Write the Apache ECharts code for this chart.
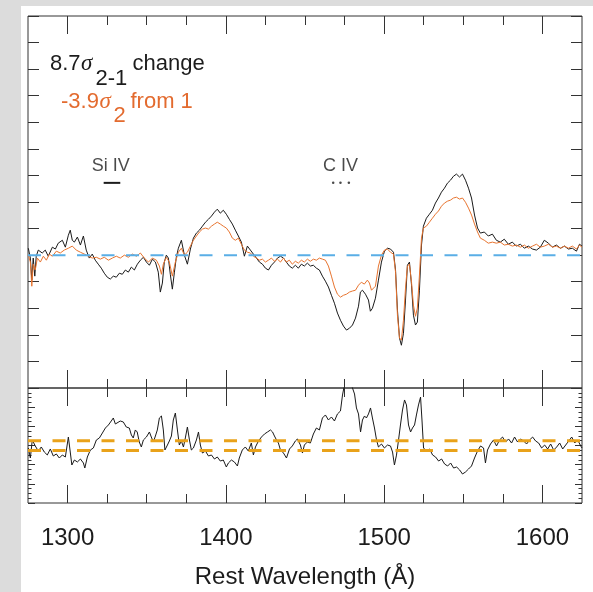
<!DOCTYPE html>
<html>
<head>
<meta charset="utf-8">
<script src="https://cdn.jsdelivr.net/npm/echarts@6/dist/echarts.min.js"></script>
<style>
  html, body { margin: 0; padding: 0; background: #dcdcdc; }
  #chart { width: 593px; height: 592px; }
</style>
</head>
<body>
<div id="chart"></div>
<script>
// Wavelength ticks (Å)
const wlMajor = [1300, 1400, 1500, 1600];
const wlMinor = [1325, 1350, 1375, 1425, 1450, 1475, 1525, 1550, 1575];

// Upper panel: change in the spectrum between epochs [wavelength, flux difference]
const diffBlack = [
  [1275.2,0.26],[1276.5,-0.11],[1277.4,-0.94],[1278.3,-0.11],[1279.3,-0.79],[1280.2,-0.04],
  [1281.5,0.19],[1284.0,0.08],[1285.9,0.19],[1287.8,-0.04],[1290.4,0.30],[1292.3,0.23],
  [1294.1,0.45],[1296.7,0.56],[1298.6,0.30],[1300.5,0.75],[1301.7,0.94],[1303.0,0.56],
  [1304.3,0.49],[1306.2,0.68],[1308.1,0.38],[1310.0,0.72],[1311.8,0.19],[1313.7,-0.11],
  [1315.6,0.04],[1317.5,-0.19],[1319.4,-0.34],[1321.3,-0.49],[1323.2,-0.68],[1325.1,-0.83],
  [1327.0,-0.90],[1328.9,-0.79],[1330.8,-0.83],[1332.7,-0.68],[1334.6,-0.72],[1336.5,-0.56],
  [1338.4,-0.64],[1340.3,-0.45],[1342.2,-0.56],[1344.1,-0.34],[1346.0,-0.19],[1347.9,-0.08],
  [1349.8,-0.26],[1351.7,-0.38],[1353.6,-0.15],[1355.5,-0.26],[1357.3,-0.64],[1358.6,-1.39],
  [1359.9,-1.05],[1361.1,-0.26],[1362.4,0.00],[1363.7,-0.11],[1364.9,-0.72],[1366.2,-1.28],
  [1367.5,-0.64],[1368.7,-0.08],[1370.0,0.26],[1371.9,0.56],[1373.8,0.00],[1375.7,-0.34],
  [1377.6,0.23],[1379.5,0.64],[1381.4,0.83],[1383.3,0.94],[1385.2,1.09],[1387.1,1.24],
  [1389.0,1.35],[1390.9,1.47],[1392.8,1.62],[1394.6,1.73],[1396.5,1.58],[1398.4,1.69],
  [1400.3,1.54],[1402.2,1.35],[1404.1,1.17],[1406.0,0.94],[1407.9,0.72],[1409.8,0.49],
  [1411.7,-0.04],[1413.6,0.34],[1415.5,0.19],[1417.4,0.04],[1419.3,-0.11],[1421.2,-0.26],
  [1423.1,-0.34],[1425.0,-0.49],[1426.9,-0.56],[1428.8,-0.38],[1430.7,-0.26],[1432.6,-0.11],
  [1434.5,-0.04],[1436.4,-0.11],[1438.2,-0.26],[1440.1,-0.41],[1442.0,-0.49],[1443.9,-0.38],
  [1445.8,-0.49],[1447.7,-0.34],[1449.6,-0.41],[1451.5,-0.30],[1453.4,-0.41],[1455.3,-0.38],
  [1457.2,-0.49],[1459.1,-0.56],[1461.0,-0.79],[1462.9,-0.98],[1464.8,-1.20],[1466.7,-1.51],
  [1468.6,-1.81],[1470.5,-2.18],[1472.4,-2.45],[1474.3,-2.67],[1476.2,-2.82],[1478.1,-2.75],
  [1480.0,-2.63],[1481.9,-2.37],[1483.8,-1.92],[1485.0,-1.39],[1486.3,-1.32],[1488.2,-1.47],
  [1490.1,-1.69],[1491.3,-2.11],[1492.6,-2.00],[1494.5,-1.62],[1496.4,-0.94],[1498.3,-0.26],
  [1500.2,0.15],[1502.1,0.26],[1504.0,0.23],[1505.9,0.11],[1507.2,-0.56],[1508.4,-2.07],
  [1509.7,-3.12],[1510.9,-3.39],[1512.2,-2.94],[1513.5,-1.69],[1514.7,-0.38],[1516.0,-0.26],
  [1517.3,-1.13],[1518.5,-2.26],[1519.8,-2.63],[1521.0,-2.52],[1522.3,-1.32],[1523.6,0.38],
  [1524.8,1.09],[1526.7,1.39],[1528.6,1.54],[1530.5,1.69],[1532.4,1.96],[1534.3,2.15],
  [1536.2,2.37],[1538.1,2.52],[1540.0,2.71],[1541.9,2.82],[1543.8,2.97],[1545.7,3.05],
  [1547.6,2.94],[1549.5,3.05],[1551.4,2.82],[1553.3,2.52],[1555.2,2.15],[1557.1,1.51],
  [1559.0,1.02],[1560.8,0.83],[1563.3,0.87],[1565.8,0.72],[1568.4,0.79],[1570.9,0.56],
  [1573.4,0.49],[1575.9,0.60],[1578.5,0.41],[1581.0,0.49],[1583.5,0.34],[1586.1,0.41],
  [1588.6,0.26],[1591.1,0.34],[1593.7,0.23],[1596.2,0.19],[1598.7,0.30],[1601.2,0.56],
  [1603.8,0.45],[1606.3,0.30],[1608.8,0.38],[1611.4,0.26],[1613.9,0.34],[1616.4,0.23],
  [1618.9,0.26],[1621.5,0.15],[1623.4,0.41],[1625.0,0.34]
];

const diffOrange = [
  [1275.2,0.00],[1276.5,-0.26],[1277.4,-1.17],[1278.3,-0.34],[1279.6,-0.56],[1280.9,-0.11],
  [1282.8,-0.26],[1284.7,-0.04],[1286.6,-0.19],[1288.5,0.04],[1290.4,-0.04],[1292.9,0.15],
  [1295.4,0.08],[1297.9,0.19],[1300.5,0.26],[1303.0,0.34],[1305.5,0.19],[1308.1,0.11],
  [1310.6,0.04],[1313.1,-0.04],[1315.6,-0.11],[1318.2,-0.08],[1320.7,-0.15],[1323.2,-0.08],
  [1325.8,-0.19],[1328.3,-0.11],[1330.8,-0.04],[1333.3,-0.11],[1335.9,0.00],[1338.4,-0.08],
  [1340.9,0.04],[1343.5,-0.04],[1346.0,0.08],[1348.5,-0.11],[1351.1,-0.26],[1353.6,-0.11],
  [1356.1,-0.19],[1358.0,-0.41],[1359.3,-0.72],[1360.5,-0.34],[1362.4,-0.08],[1364.3,-0.26],
  [1366.2,-0.79],[1368.1,-0.26],[1370.0,0.11],[1371.9,0.26],[1373.8,0.00],[1375.7,0.11],
  [1377.6,0.34],[1379.5,0.56],[1381.4,0.72],[1383.3,0.87],[1385.2,0.98],[1387.1,1.02],
  [1389.0,0.98],[1390.9,1.09],[1392.8,1.17],[1394.6,1.24],[1396.5,1.17],[1398.4,1.09],
  [1400.3,1.02],[1402.2,0.87],[1404.1,0.64],[1406.0,0.56],[1407.9,0.64],[1409.8,0.41],
  [1411.7,0.19],[1413.6,0.11],[1415.5,0.08],[1417.4,-0.04],[1419.3,-0.11],[1421.2,-0.19],
  [1423.1,-0.15],[1425.0,-0.26],[1426.9,-0.19],[1428.8,-0.11],[1430.7,-0.23],[1432.6,-0.15],
  [1434.5,-0.26],[1436.4,-0.11],[1438.2,-0.26],[1440.1,-0.19],[1442.0,-0.34],[1443.9,-0.23],
  [1445.8,-0.30],[1447.7,-0.19],[1449.6,-0.26],[1451.5,-0.15],[1453.4,-0.23],[1455.3,-0.15],
  [1457.2,-0.19],[1459.1,-0.11],[1461.0,-0.15],[1462.9,-0.19],[1464.8,-0.41],[1466.7,-0.79],
  [1468.6,-1.20],[1470.5,-1.47],[1472.4,-1.58],[1474.3,-1.51],[1476.2,-1.47],[1478.1,-1.39],
  [1480.0,-1.35],[1481.9,-1.32],[1483.8,-1.13],[1485.6,-1.02],[1487.5,-1.09],[1489.4,-0.94],
  [1490.7,-1.05],[1492.0,-1.32],[1493.2,-1.39],[1494.5,-1.17],[1496.4,-0.41],[1498.3,0.00],
  [1500.2,0.19],[1502.1,0.23],[1504.0,0.11],[1505.9,0.04],[1507.2,-0.64],[1508.4,-2.26],
  [1509.7,-3.12],[1510.9,-3.20],[1512.2,-2.45],[1513.5,-1.24],[1514.7,-0.41],[1516.0,-0.34],
  [1517.3,-1.02],[1518.5,-1.88],[1519.8,-2.30],[1521.0,-1.99],[1522.3,-0.75],[1523.6,0.64],
  [1524.8,1.02],[1526.7,1.09],[1528.6,1.24],[1530.5,1.39],[1532.4,1.54],[1534.3,1.66],
  [1536.2,1.84],[1538.1,1.96],[1540.0,2.03],[1541.9,2.07],[1543.8,2.15],[1545.7,2.18],
  [1547.6,2.11],[1549.5,2.15],[1551.4,1.99],[1553.3,1.77],[1555.2,1.51],[1557.1,1.17],
  [1559.0,0.87],[1560.8,0.64],[1563.3,0.56],[1565.8,0.45],[1568.4,0.49],[1570.9,0.45],
  [1573.4,0.49],[1575.9,0.38],[1578.5,0.41],[1581.0,0.34],[1583.5,0.38],[1586.1,0.30],
  [1588.6,0.38],[1591.1,0.26],[1593.7,0.34],[1596.2,0.41],[1598.7,0.30],[1601.2,0.34],
  [1603.8,0.41],[1606.3,0.30],[1608.8,0.34],[1611.4,0.26],[1613.9,0.34],[1616.4,0.26],
  [1618.9,0.34],[1621.5,0.23],[1623.4,0.38],[1625.0,0.30]
];

// Lower panel: significance of the change [wavelength, sigma]
const residual = [
  [1275.2,-0.52],[1276.5,-2.61],[1277.7,1.15],[1279.6,-0.10],[1281.5,-1.15],[1283.4,-0.31],
  [1285.3,-1.36],[1287.2,-1.98],[1289.1,-0.73],[1291.0,-2.19],[1292.9,-1.77],[1294.8,-2.61],
  [1296.7,-1.98],[1298.6,-2.40],[1300.5,1.77],[1301.7,-1.36],[1302.7,-4.07],[1304.3,-3.03],
  [1306.2,-3.44],[1308.1,-2.82],[1310.0,-3.65],[1310.9,-4.70],[1312.5,-2.40],[1314.4,-0.94],
  [1316.3,-0.52],[1318.2,1.15],[1320.1,1.57],[1322.0,2.61],[1323.9,3.65],[1325.8,4.28],
  [1327.6,5.11],[1328.9,5.74],[1330.2,4.49],[1331.4,4.28],[1333.3,5.11],[1335.2,4.91],
  [1337.1,3.86],[1339.0,3.65],[1340.3,2.19],[1341.5,1.57],[1342.8,3.24],[1344.0,2.82],
  [1345.3,0.73],[1346.6,-0.31],[1347.9,1.15],[1349.8,1.77],[1351.7,2.82],[1352.9,1.77],
  [1354.2,0.73],[1355.5,1.98],[1356.7,3.24],[1358.0,5.74],[1359.3,6.16],[1360.5,3.24],
  [1361.5,-0.94],[1363.1,0.10],[1364.3,0.94],[1365.6,1.98],[1366.8,5.32],[1368.1,6.78],
  [1369.4,3.24],[1370.6,0.10],[1371.9,0.94],[1373.2,-0.31],[1374.4,1.57],[1375.7,3.86],
  [1377.0,1.15],[1378.2,-0.94],[1379.5,-0.52],[1381.4,1.15],[1382.7,2.82],[1383.9,0.10],
  [1385.2,-1.57],[1387.1,-1.15],[1389.0,-2.19],[1390.9,-1.98],[1392.8,-2.82],[1394.6,-2.40],
  [1396.5,-3.24],[1398.4,-3.03],[1400.3,-4.49],[1401.6,-3.65],[1403.5,-3.03],[1405.4,-3.44],
  [1407.3,-4.28],[1408.5,-2.61],[1410.4,-0.94],[1412.3,-0.31],[1414.2,-1.15],[1416.1,0.52],
  [1417.4,-1.98],[1418.7,-0.31],[1420.6,0.94],[1422.5,1.77],[1424.4,2.40],[1426.3,2.82],
  [1428.2,3.24],[1429.5,2.82],[1430.7,1.98],[1432.0,1.15],[1433.2,0.52],[1434.5,-0.94],
  [1436.4,-1.57],[1438.3,-2.61],[1440.2,-0.73],[1442.0,-0.10],[1443.9,0.94],[1445.2,1.36],
  [1447.1,0.10],[1448.4,-1.57],[1449.6,0.10],[1451.5,0.73],[1453.4,0.52],[1455.3,2.40],
  [1457.2,3.65],[1459.1,3.24],[1461.0,5.74],[1462.9,6.37],[1464.8,5.32],[1466.7,5.95],
  [1468.6,5.11],[1470.5,6.58],[1472.4,7.20],[1473.7,10.54],[1474.9,12.6],[1476.8,13.7],
  [1478.7,13.3],[1480.0,12.0],[1481.3,10.75],[1482.5,7.83],[1483.8,6.58],[1485.1,2.82],
  [1486.3,5.32],[1487.6,6.16],[1488.8,5.74],[1490.1,6.58],[1491.4,7.83],[1492.6,5.74],
  [1493.9,3.65],[1495.2,1.15],[1496.4,-0.31],[1498.3,0.31],[1500.2,-0.52],[1502.1,0.10],
  [1504.0,-0.10],[1505.3,-1.36],[1506.5,-4.07],[1507.8,-2.00],[1509.1,1.15],[1510.3,4.28],
  [1511.6,7.41],[1512.9,9.50],[1514.1,8.46],[1515.4,4.28],[1516.7,2.82],[1517.9,3.65],
  [1519.2,4.28],[1520.4,6.37],[1521.7,8.46],[1523.0,10.1],[1523.9,5.32],[1524.9,-0.52],
  [1526.8,-1.15],[1528.7,-0.73],[1530.6,-1.98],[1532.5,-2.40],[1534.4,-3.24],[1536.3,-2.82],
  [1538.2,-3.86],[1540.1,-4.28],[1542.0,-3.65],[1543.9,-4.70],[1545.8,-4.49],[1547.7,-5.11],
  [1549.5,-5.95],[1551.4,-5.53],[1553.3,-4.91],[1555.2,-4.28],[1557.1,-2.61],[1559.0,-1.15],
  [1560.9,-0.10],[1562.8,-0.52],[1564.0,-3.65],[1565.3,-0.94],[1567.2,0.31],[1569.1,1.15],
  [1571.0,-0.10],[1572.9,1.15],[1574.8,1.77],[1576.7,0.73],[1578.6,1.36],[1580.5,0.52],
  [1582.4,1.77],[1584.3,0.73],[1586.2,1.36],[1588.1,0.94],[1590.0,0.31],[1591.9,1.15],
  [1593.8,1.77],[1595.7,0.94],[1597.6,0.52],[1599.5,-0.52],[1601.4,0.10],[1603.3,-0.73],
  [1605.2,0.31],[1607.1,-0.94],[1609.0,-0.31],[1610.9,0.52],[1612.8,-0.73],[1614.7,0.10],
  [1616.6,0.94],[1618.5,1.77],[1620.4,0.52],[1622.3,1.15],[1624.2,-0.10],[1625.0,-0.52]
];

const zeroLevel = 0;
const sigmaBand = [1.0, -1.05];

// Absorption-line markers
const lineNames = ['Si IV', 'C IV'];
const lineNamePos = [1327.3, 1472.4];
const lineNameLevel = 3.34;
const siIVBar = [1322.8, 1333.3];
const cIVDots = [1467.8, 1472.4, 1477.7];
const markLevel = 2.72;

const WL_MIN = 1275, WL_MAX = 1625;
const FONT = '"Liberation Sans", Arial, Helvetica, sans-serif';
const INK = '#1c1c1c';
const FRAME = '#333';

function xAxes(gridIndex, position, withLabels) {
  const base = {
    type: 'value', gridIndex, position, min: WL_MIN, max: WL_MAX,
    axisLine: { show: false, onZero: false },
    splitLine: { show: false },
    axisLabel: { show: false }
  };
  const major = Object.assign({}, base, {
    axisTick: { show: true, inside: true, length: 18, customValues: wlMajor,
                lineStyle: { color: FRAME, width: 1 } }
  });
  if (withLabels) {
    major.axisLabel = { show: true, customValues: wlMajor, fontSize: 24, color: INK,
                        fontFamily: FONT, margin: 23, formatter: v => String(v) };
    major.name = 'Rest Wavelength (Å)';
    major.nameLocation = 'middle';
    major.nameGap = 62;
    major.nameTextStyle = { fontSize: 24, color: INK, fontFamily: FONT };
  }
  const minor = Object.assign({}, base, {
    axisTick: { show: true, inside: true, length: 9, customValues: wlMinor,
                lineStyle: { color: FRAME, width: 1 } }
  });
  return [major, minor];
}

function yAxes(gridIndex, min, max, interval, tickLen, minor) {
  return ['left', 'right'].map(position => ({
    type: 'value', gridIndex, position, min, max, interval,
    axisLine: { show: false, onZero: false },
    splitLine: { show: false },
    axisLabel: { show: false },
    axisTick: { show: true, inside: true, length: tickLen, lineStyle: { color: FRAME, width: 1 } },
    minorTick: minor ? { show: true, splitNumber: 4, length: 3.5, lineStyle: { color: FRAME, width: 1 } }
                     : { show: false }
  }));
}

const chart = echarts.init(document.getElementById('chart'), null, { renderer: 'canvas' });

const ORANGE_TEXT = '#e36b2f';
const textPieces = [
  { t: '8.7', x: 50, y: 64.4, c: INK },
  { t: 'σ', x: 81, y: 64.4, c: INK, greek: true },
  { t: '2-1', x: 95.5, y: 78.7, c: INK },
  { t: 'change', x: 132.5, y: 64.4, c: INK },
  { t: '-3.9', x: 61, y: 102, c: ORANGE_TEXT },
  { t: 'σ', x: 99.5, y: 102, c: ORANGE_TEXT, greek: true },
  { t: '2', x: 113.5, y: 116, c: ORANGE_TEXT },
  { t: 'from 1', x: 130.5, y: 102, c: ORANGE_TEXT }
];

const option = {
  animation: false,
  backgroundColor: '#dcdcdc',
  textStyle: { fontFamily: FONT },
  graphic: [
    { type: 'rect', z: -10, silent: true, shape: { x: 21, y: 6, width: 572, height: 586 },
      style: { fill: '#ffffff' } }
  ].concat(textPieces.map(p => ({
    type: 'text', x: p.x, y: p.y, silent: true, z: 10,
    style: {
      text: p.t, fill: p.c, fontSize: p.greek ? 23 : 22,
      fontFamily: p.greek ? '"Liberation Serif", "DejaVu Serif", serif' : FONT,
      fontStyle: p.greek ? 'italic' : 'normal',
      align: 'left', verticalAlign: 'middle'
    }
  }))),
  grid: [
    { left: 28, top: 16, width: 554, height: 372, show: true, borderColor: FRAME, borderWidth: 1,
      backgroundColor: 'transparent', containLabel: false },
    { left: 28, top: 388, width: 554, height: 115, show: true, borderColor: FRAME, borderWidth: 1,
      backgroundColor: 'transparent', containLabel: false }
  ],
  xAxis: [].concat(
    xAxes(0, 'bottom', false), xAxes(0, 'top', false),
    xAxes(1, 'bottom', true), xAxes(1, 'top', false)
  ),
  yAxis: [].concat(
    yAxes(0, -5, 9, 1, 11, false),
    yAxes(1, -12, 12, 4, 7, true)
  ),
  series: [
    { name: 'change', type: 'line', xAxisIndex: 0, yAxisIndex: 0, data: diffBlack,
      showSymbol: false, symbol: 'none', lineStyle: { color: '#1a1a1a', width: 1 }, z: 2 },
    { name: 'from 1', type: 'line', xAxisIndex: 0, yAxisIndex: 0, data: diffOrange,
      showSymbol: false, symbol: 'none', lineStyle: { color: '#e8742f', width: 1 }, z: 3 },
    { name: 'zero', type: 'line', xAxisIndex: 0, yAxisIndex: 0,
      data: [[WL_MIN, zeroLevel], [WL_MAX, zeroLevel]],
      showSymbol: false, symbol: 'none', lineStyle: { color: '#5aaee6', width: 2, type: [13, 11.5] }, z: 4 },
    { name: 'Si IV', type: 'line', xAxisIndex: 0, yAxisIndex: 0,
      data: siIVBar.map(w => [w, markLevel]),
      showSymbol: false, symbol: 'none', lineStyle: { color: INK, width: 2 }, z: 4 },
    { name: 'C IV', type: 'scatter', xAxisIndex: 0, yAxisIndex: 0,
      data: cIVDots.map(w => [w, markLevel]),
      symbol: 'circle', symbolSize: 2.5, itemStyle: { color: INK }, z: 4 },
    { name: 'line names', type: 'scatter', xAxisIndex: 0, yAxisIndex: 0,
      data: lineNames.map((n, i) => [lineNamePos[i], lineNameLevel, n]),
      symbolSize: 1, itemStyle: { color: 'rgba(0,0,0,0)' },
      label: { show: true, position: 'inside', formatter: p => p.value[2],
               fontSize: 18, color: INK, fontFamily: FONT }, z: 4 },
    { name: 'significance', type: 'line', xAxisIndex: 4, yAxisIndex: 2, data: residual,
      showSymbol: false, symbol: 'none', clip: true, lineStyle: { color: '#1a1a1a', width: 1 }, z: 2 },
    { name: '+1 sigma', type: 'line', xAxisIndex: 4, yAxisIndex: 2,
      data: [[WL_MIN, sigmaBand[0]], [WL_MAX, sigmaBand[0]]],
      showSymbol: false, symbol: 'none', lineStyle: { color: '#e9a21a', width: 3, type: [13, 11.5] }, z: 3 },
    { name: '-1 sigma', type: 'line', xAxisIndex: 4, yAxisIndex: 2,
      data: [[WL_MIN, sigmaBand[1]], [WL_MAX, sigmaBand[1]]],
      showSymbol: false, symbol: 'none', lineStyle: { color: '#e9a21a', width: 3, type: [13, 11.5] }, z: 3 }
  ]
};

chart.setOption(option);
</script>
</body>
</html>
